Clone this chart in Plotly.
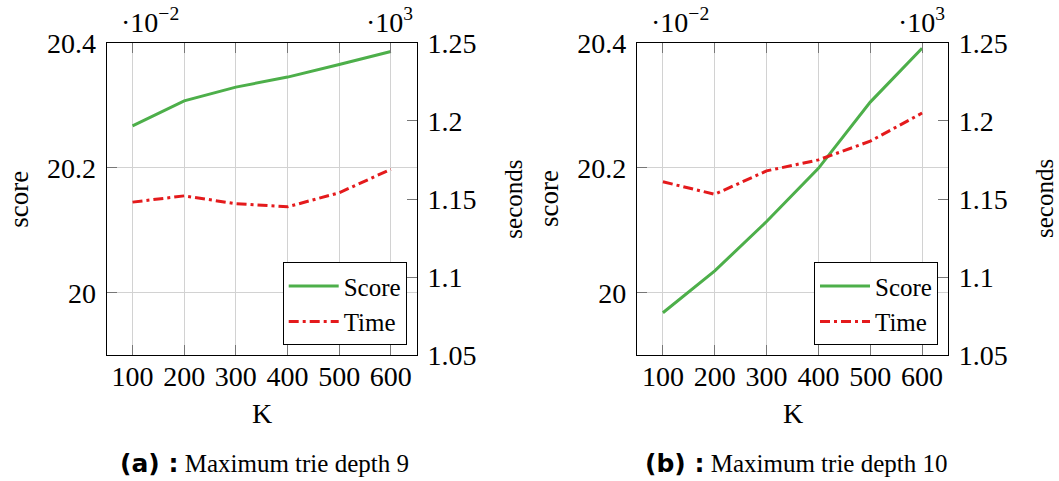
import plotly.graph_objects as go

# K values on the horizontal axis
k_values = [100, 200, 300, 400, 500, 600]

# Score is given in units of 1e-2, time in units of 1e3 seconds
score_depth9 = [20.267, 20.307, 20.329, 20.345, 20.365, 20.386]
time_depth9 = [1.148, 1.152, 1.147, 1.145, 1.154, 1.169]
score_depth10 = [19.968, 20.035, 20.114, 20.199, 20.305, 20.391]
time_depth10 = [1.161, 1.153, 1.168, 1.175, 1.187, 1.205]

score_ticks = [20.0, 20.2, 20.4]
score_ticktext = ["20", "20.2", "20.4"]
time_ticks = [1.05, 1.1, 1.15, 1.2, 1.25]
time_ticktext = ["1.05", "1.1", "1.15", "1.2", "1.25"]
k_ticktext = ["100", "200", "300", "400", "500", "600"]

caption_tags = ["(a) :", "(b) :"]
captions = ["Maximum trie depth 9", "Maximum trie depth 10"]

W, H = 1059, 481
SERIF = "Liberation Serif"
GREEN = "#4daf4a"
RED = "#e41a1c"
GRID = "#d2d2d2"
TICK_FONT = 28


def px_x(v):
    return v / W


def px_y(v):
    return 1 - v / H


panels = [
    dict(left=106.7, right=416.7, score=score_depth9, time=time_depth9),
    dict(left=637.0, right=948.0, score=score_depth10, time=time_depth10),
]
plot_top, plot_bottom = 42.7, 355.3

fig = go.Figure()
layout = dict(
    template="none",
    width=W, height=H,
    margin=dict(l=0, r=0, t=0, b=0, autoexpand=False),
    paper_bgcolor="white", plot_bgcolor="white",
    font=dict(family=SERIF, size=TICK_FONT, color="black"),
    annotations=[],
)


def label(text, x, y, size, angle=0):
    return dict(text=text, x=px_x(x), y=px_y(y), xref="paper", yref="paper",
                xanchor="center", yanchor="middle", showarrow=False,
                textangle=angle, font=dict(size=size))


for i, p in enumerate(panels):
    xa = "x" if i == 0 else "x2"
    ya_score = "y" if i == 0 else "y3"
    ya_time = "y2" if i == 0 else "y4"
    leg = "legend" if i == 0 else "legend2"

    fig.add_trace(go.Scatter(
        x=k_values, y=p["score"], name="Score", mode="lines",
        line=dict(color=GREEN, width=3), xaxis=xa, yaxis=ya_score, legend=leg,
    ))
    fig.add_trace(go.Scatter(
        x=k_values, y=p["time"], name="Time", mode="lines",
        line=dict(color=RED, width=3, dash="10px,4px,3px,4px"),
        xaxis=xa, yaxis=ya_time, legend=leg,
    ))

    dom_x = [px_x(p["left"]), px_x(p["right"])]
    dom_y = [px_y(plot_bottom), px_y(plot_top)]
    xkey = "xaxis" if i == 0 else "xaxis2"
    ykey_s = "yaxis" if i == 0 else "yaxis3"
    ykey_t = "yaxis2" if i == 0 else "yaxis4"

    common = dict(ticks="inside", ticklen=10, tickcolor="#777", tickwidth=1,
                  showline=True, linecolor="black", linewidth=1.2,
                  zeroline=False, automargin=False)
    layout[xkey] = dict(
        domain=dom_x, anchor=ya_score, range=[50, 650],
        tickvals=k_values, ticktext=k_ticktext, mirror="ticks",
        showgrid=True, gridcolor=GRID, gridwidth=1,
        ticklabelstandoff=-4, **common,
    )
    layout[ykey_s] = dict(
        domain=dom_y, anchor=xa, range=[19.9, 20.4],
        tickvals=score_ticks, ticktext=score_ticktext,
        showgrid=True, gridcolor=GRID, gridwidth=1,
        ticklabelstandoff=4, **common,
    )
    layout[ykey_t] = dict(
        anchor=xa, overlaying=ya_score, side="right", range=[1.05, 1.25],
        tickvals=time_ticks, ticktext=time_ticktext,
        showgrid=False, ticklabelstandoff=4, **common,
    )
    layout[leg] = dict(
        x=px_x(p["right"] - 10), y=px_y(plot_bottom - 10),
        xanchor="right", yanchor="bottom",
        bordercolor="black", borderwidth=1, bgcolor="white",
        font=dict(family=SERIF, size=25), tracegroupgap=0,
        itemwidth=50,
    )

    mid_x = (p["left"] + p["right"]) / 2
    mid_y = (plot_top + plot_bottom) / 2
    ann = layout["annotations"]
    # axis titles
    ann.append(label("score", p["left"] - 88, mid_y, 27, -90))
    ann.append(label("seconds", p["right"] + 96, mid_y, 25, -90))
    ann.append(label("K", mid_x, 413, 28))
    # scale factors of the two vertical axes
    ann.append(label("·10<sup>−2</sup>", p["left"] + 43, 20, 28))
    ann.append(label("·10<sup>3</sup>", p["right"] - 27, 20, 28))
    # sub-figure caption
    ann.append(label(
        "<span style='font-family:DejaVu Sans'><b>" + caption_tags[i]
        + "</b></span> " + captions[i], mid_x + 3, 463, 25))

fig.update_layout(**layout)
fig.write_html("out.html")
